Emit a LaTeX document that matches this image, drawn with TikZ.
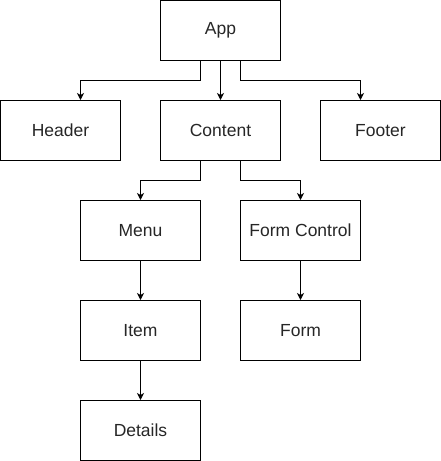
\documentclass[tikz,border=0pt]{standalone}
\usepackage{fontspec}
\setmainfont{Liberation Sans}
\usetikzlibrary{arrows.meta}
\begin{document}
\begin{tikzpicture}[x=1pt,y=-1pt,
  box/.style={draw=black,line width=1pt,minimum width=120pt,minimum height=60pt,inner sep=0pt,font=\fontsize{17.5}{20}\selectfont,text=black!85},
  link/.style={draw=black,line width=1pt,-{Stealth[length=7pt,width=7pt,inset=2pt]}}]
\useasboundingbox (0,0) rectangle (441,461);
\node[box] (app) at (220.5,30.5) {App};
\node[box] (header) at (60.5,130.5) {Header};
\node[box] (content) at (220.5,130.5) {Content};
\node[box] (footer) at (380.5,130.5) {Footer};
\node[box] (menu) at (140.5,230.5) {Menu};
\node[box] (formctl) at (300.5,230.5) {Form Control};
\node[box] (item) at (140.5,330.5) {Item};
\node[box] (form) at (300.5,330.5) {Form};
\node[box] (details) at (140.5,430.5) {Details};
\draw[link] (app.south -| 200.5,0) |- (80.5,80.5) -- (header.north -| 80.5,0);
\draw[link] (app.south) -- (content.north);
\draw[link] (app.south -| 240.5,0) |- (360.5,80.5) -- (footer.north -| 360.5,0);
\draw[link] (content.south -| 200.5,0) |- (140.5,180.5) -- (menu.north);
\draw[link] (content.south -| 240.5,0) |- (300.5,180.5) -- (formctl.north);
\draw[link] (menu.south) -- (item.north);
\draw[link] (formctl.south) -- (form.north);
\draw[link] (item.south) -- (details.north);
\end{tikzpicture}
\end{document}
